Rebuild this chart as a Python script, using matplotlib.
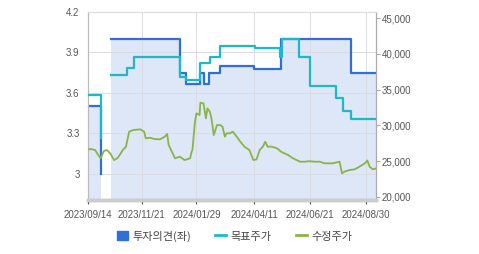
import matplotlib
matplotlib.use("Agg")
import matplotlib.pyplot as plt
import matplotlib.dates as mdates
from matplotlib.patches import Patch
from matplotlib.lines import Line2D
import numpy as np
import pandas as pd

plt.rcParams['font.family'] = ['Liberation Sans', 'Noto Sans CJK KR', 'DejaVu Sans']

# Investment opinion (left axis), step series; NaN = no data
op_dates = ["2023-09-14", "2023-09-30", "2023-10-01", "2023-10-13", "2024-01-08", "2024-01-16",
            "2024-02-03", "2024-02-07", "2024-02-14", "2024-02-28", "2024-04-11", "2024-05-15",
            "2024-08-12", "2024-09-12"]
op_values = [3.5, 3.0, np.nan, 4.0, 3.75, 3.67, 3.75, 3.67, 3.75, 3.8, 3.78, 4.0, 3.75, 3.75]

# Target price (right axis), step series
tp_dates = ["2023-09-14", "2023-09-30", "2023-10-01", "2023-10-13", "2023-11-02", "2023-11-11",
            "2024-01-08", "2024-01-16", "2024-02-03", "2024-02-15", "2024-02-28", "2024-04-12",
            "2024-05-14", "2024-05-16", "2024-06-07", "2024-06-21", "2024-07-24", "2024-08-01",
            "2024-08-12", "2024-09-12"]
tp_values = [34200, 28200, np.nan, 37000, 38000, 39500, 36700, 36300, 38700, 39600, 41100, 40800,
             39600, 42000, 39500, 35500, 33800, 32000, 30900, 30900]

# Adjusted stock price (right axis)
px_dates = ["2023-09-14", "2023-09-18", "2023-09-23", "2023-09-27", "2023-09-30", "2023-10-04",
            "2023-10-08", "2023-10-12", "2023-10-17", "2023-10-21", "2023-10-24", "2023-10-28",
            "2023-11-01", "2023-11-05", "2023-11-10", "2023-11-19", "2023-11-24", "2023-11-26",
            "2023-12-01", "2023-12-07", "2023-12-14", "2023-12-20", "2023-12-23", "2023-12-25",
            "2023-12-29", "2024-01-02", "2024-01-08", "2024-01-14", "2024-01-21", "2024-01-23",
            "2024-01-24", "2024-01-27", "2024-01-29", "2024-02-02", "2024-02-03", "2024-02-07",
            "2024-02-10", "2024-02-12", "2024-02-15", "2024-02-17", "2024-02-20", "2024-02-24",
            "2024-02-28", "2024-03-02", "2024-03-05", "2024-03-07", "2024-03-11", "2024-03-15",
            "2024-03-20", "2024-03-24", "2024-03-30", "2024-04-05", "2024-04-10", "2024-04-14",
            "2024-04-18", "2024-04-22", "2024-04-25", "2024-04-28", "2024-05-03", "2024-05-10",
            "2024-05-15", "2024-05-24", "2024-05-30", "2024-06-08", "2024-06-14", "2024-06-20",
            "2024-06-27", "2024-07-03", "2024-07-09", "2024-07-19", "2024-07-28", "2024-07-31",
            "2024-08-03", "2024-08-09", "2024-08-16", "2024-08-22", "2024-08-29", "2024-09-01",
            "2024-09-04", "2024-09-08", "2024-09-12"]
px_values = [26650, 26700, 26560, 25860, 25400, 26420,
             26560, 26100, 25160, 25400, 25860, 26560,
             27030, 29120, 29350, 29450, 29120, 28190,
             28280, 28100, 28050, 28420, 28800, 27260,
             26320, 25400, 25630, 25160, 25400, 26320,
             26560, 30280, 31690, 31450, 33170, 33080,
             30990, 32380, 31910, 30990, 28650, 30050,
             30050, 29820, 28420, 28890, 28890, 29120,
             28420, 27800, 27000, 26560, 25160, 25250,
             26560, 27030, 27720, 27030, 27030, 26800,
             26320, 25860, 25400, 24930, 24930, 25000,
             24930, 24930, 24700, 24700, 24930, 23300,
             23530, 23760, 23860, 24230, 24700, 25100,
             24230, 23860, 23990]

x_ticks = ["2023-09-14", "2023-11-21", "2024-01-29", "2024-04-11", "2024-06-21", "2024-08-30"]
x_ticklabels = ["2023/09/14", "2023/11/21", "2024/01/29", "2024/04/11", "2024/06/21", "2024/08/30"]
left_ticks = [3.0, 3.3, 3.6, 3.9, 4.2]
left_ticklabels = ["3", "3.3", "3.6", "3.9", "4.2"]
right_ticks = [20000, 25000, 30000, 35000, 40000, 45000]

C_OP = "#2f6fd6"
C_FILL = "#dde7f7"
C_TP = "#1cb9c8"
C_PX = "#8ab34a"
C_TXT = "#555555"

op_d = pd.to_datetime(op_dates)
tp_d = pd.to_datetime(tp_dates)
px_d = pd.to_datetime(px_dates)
op_v = np.array(op_values, dtype=float)

fig = plt.figure(figsize=(4.79, 2.54), dpi=100)
ax = fig.add_axes([88/479, 54/254, 288/479, 188/254])
ax2 = ax.twinx()

ylo = 2.807
ax.set_ylim(ylo, 4.2)
ax2.set_ylim(19580, 45840)
ax.set_xlim(pd.Timestamp("2023-09-14"), pd.Timestamp("2024-09-12"))

ax.fill_between(op_d, op_v, ylo, step="post", color=C_FILL, lw=0, zorder=0.5)
ax.plot(op_d, op_v, drawstyle="steps-post", color=C_OP, lw=1.6, zorder=3)

ax2.plot(tp_d, tp_values, drawstyle="steps-post", color=C_TP, lw=1.6, zorder=3)
ax2.plot(px_d, px_values, color=C_PX, lw=1.3, zorder=4)

ax.set_xticks(pd.to_datetime(x_ticks))
ax.set_xticklabels(x_ticklabels)
ax.set_yticks(left_ticks)
ax.set_yticklabels(left_ticklabels)
ax2.set_yticks(right_ticks)
ax2.set_yticklabels([f"{v:,}" for v in right_ticks])

ax.set_axisbelow(False)
ax.grid(True, color="#d9dde3", lw=0.7, zorder=1)

ax.tick_params(axis="x", labelsize=7, colors=C_TXT, length=3, width=0.8, pad=4)
ax.tick_params(axis="y", labelsize=7, colors=C_TXT, length=0, pad=6)
ax2.tick_params(axis="y", labelsize=7, colors=C_TXT, length=3, width=0.8, pad=1, color="#aaaaaa")

for a in (ax, ax2):
    a.spines["top"].set_color("#dddddd")
    a.spines["top"].set_linewidth(0.8)
    a.spines["left"].set_color("#bbbbbb")
    a.spines["right"].set_color("#aaaaaa")
    a.spines["bottom"].set_color("#cccccc")
    a.spines["bottom"].set_linewidth(2.5)
    a.spines["left"].set_linewidth(0.8)
    a.spines["right"].set_linewidth(0.8)

handles = [Patch(facecolor=C_OP, edgecolor=C_OP),
           Line2D([0], [0], color=C_TP, lw=2),
           Line2D([0], [0], color=C_PX, lw=2)]
labels = ["투자의견(좌)", "목표주가", "수정주가"]
leg = fig.legend(handles, labels, loc="center", bbox_to_anchor=(0.49, 0.07), ncol=3,
                 frameon=False, prop={"family": ["Noto Sans CJK KR", "DejaVu Sans"], "size": 8},
                 handlelength=1.0, handleheight=0.9, handletextpad=0.4, columnspacing=2.2)
for t in leg.get_texts():
    t.set_color("#444444")

fig.savefig("out.png", dpi=100)
